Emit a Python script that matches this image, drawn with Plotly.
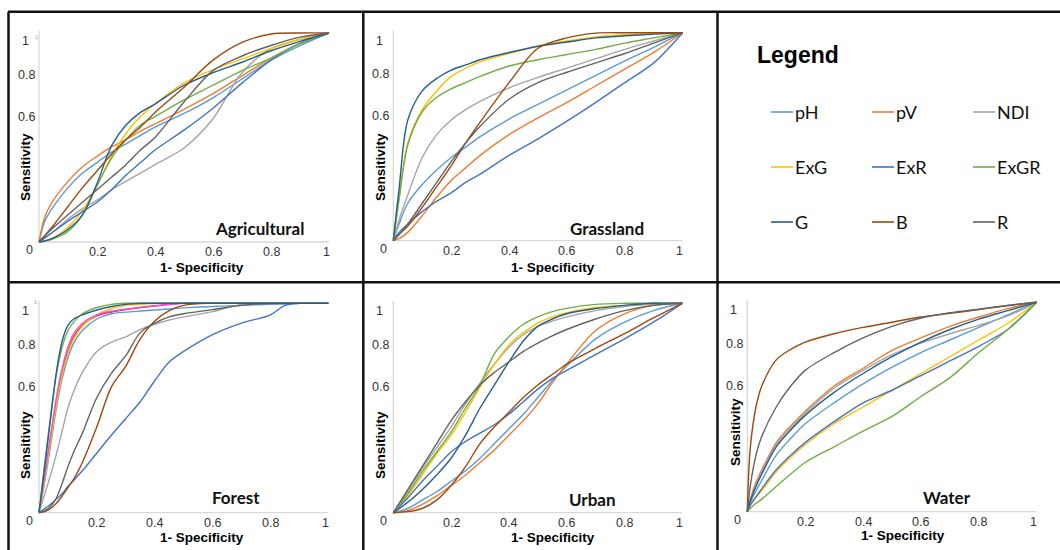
import plotly.graph_objects as go

# ---------------- data ----------------
SERIES = ["pH", "pV", "NDI", "ExG", "ExR", "ExGR", "G", "B", "R"]
COLORS = ["#5B9BD5", "#ED7D31", "#A5A5A5", "#FFC000", "#4472C4",
          "#70AD47", "#255E91", "#9E480E", "#636363"]
EXTRA_COLORS = {"red": "#E8262A", "pink": "#EE4FD6"}

Y_TICKS = [0, 0.6, 0.8, 1]
Y_TICK_TEXT = ["0", "0.6", "0.8", "1"]
X_TICKS = [0.2, 0.4, 0.6, 0.8, 1]
X_TICK_TEXT = ["0.2", "0.4", "0.6", "0.8", "1"]

# Agricultural
AGR_X = [0, 0.02, 0.05, 0.1, 0.15, 0.2, 0.25, 0.3, 0.35, 0.4, 0.5, 0.6, 0.7, 0.8, 0.9, 1]
AGR_PH = [0, 0.10, 0.17, 0.26, 0.33, 0.38, 0.43, 0.47, 0.51, 0.55, 0.615, 0.69, 0.78, 0.87, 0.94, 1]
AGR_PV = [0, 0.12, 0.20, 0.29, 0.36, 0.41, 0.455, 0.49, 0.53, 0.565, 0.635, 0.71, 0.795, 0.88, 0.95, 1]
AGR_NDI = [0, 0.02, 0.05, 0.11, 0.16, 0.20, 0.25, 0.29, 0.33, 0.37, 0.45, 0.59, 0.81, 0.925, 0.97, 1]
AGR_EXG = [0, 0.005, 0.02, 0.07, 0.15, 0.27, 0.41, 0.52, 0.60, 0.66, 0.76, 0.825, 0.875, 0.925, 0.97, 1]
AGR_EXR = [0, 0.02, 0.05, 0.10, 0.145, 0.19, 0.25, 0.32, 0.38, 0.44, 0.535, 0.64, 0.76, 0.87, 0.95, 1]
AGR_EXGR = [0, 0.005, 0.015, 0.05, 0.13, 0.27, 0.40, 0.49, 0.56, 0.60, 0.68, 0.75, 0.82, 0.88, 0.95, 1]
AGR_G = [0, 0.005, 0.02, 0.06, 0.13, 0.28, 0.46, 0.56, 0.62, 0.66, 0.75, 0.81, 0.86, 0.915, 0.96, 1]
AGR_B = [0, 0.03, 0.08, 0.17, 0.26, 0.34, 0.42, 0.49, 0.55, 0.62, 0.74, 0.87, 0.955, 0.995, 1, 1]
AGR_R = [0, 0.03, 0.07, 0.13, 0.19, 0.25, 0.31, 0.37, 0.44, 0.50, 0.67, 0.82, 0.89, 0.94, 0.98, 1]

# Grassland
GRA_X = [0, 0.02, 0.05, 0.1, 0.15, 0.2, 0.25, 0.3, 0.4, 0.5, 0.6, 0.7, 0.8, 0.9, 1]
GRA_PH = [0, 0.08, 0.18, 0.27, 0.34, 0.40, 0.45, 0.50, 0.585, 0.655, 0.725, 0.795, 0.865, 0.93, 1]
GRA_PV = [0, 0.01, 0.04, 0.12, 0.21, 0.29, 0.35, 0.41, 0.51, 0.59, 0.665, 0.745, 0.825, 0.905, 1]
GRA_NDI = [0, 0.10, 0.22, 0.40, 0.51, 0.58, 0.63, 0.67, 0.735, 0.785, 0.83, 0.875, 0.92, 0.96, 1]
GRA_EXG = [0, 0.20, 0.47, 0.63, 0.72, 0.79, 0.83, 0.86, 0.90, 0.935, 0.96, 0.98, 0.99, 0.995, 1]
GRA_EXR = [0, 0.04, 0.08, 0.14, 0.19, 0.23, 0.28, 0.32, 0.41, 0.49, 0.575, 0.665, 0.76, 0.855, 1]
GRA_EXGR = [0, 0.20, 0.46, 0.62, 0.69, 0.73, 0.76, 0.79, 0.84, 0.87, 0.895, 0.92, 0.95, 0.975, 1]
GRA_G = [0, 0.25, 0.58, 0.72, 0.78, 0.82, 0.845, 0.87, 0.905, 0.935, 0.955, 0.975, 0.985, 0.993, 1]
GRA_B = [0, 0.03, 0.07, 0.16, 0.26, 0.36, 0.47, 0.57, 0.76, 0.925, 0.975, 0.998, 1, 1, 1]
GRA_R = [0, 0.03, 0.08, 0.18, 0.28, 0.38, 0.47, 0.55, 0.68, 0.76, 0.81, 0.855, 0.90, 0.95, 1]

# Forest
FOR_X = [0, 0.02, 0.04, 0.06, 0.08, 0.1, 0.12, 0.15, 0.2, 0.25, 0.3, 0.35, 0.4, 0.45, 0.5, 0.6, 0.7, 0.8, 0.85, 0.9, 1]
FOR_PH = [0, 0.15, 0.32, 0.50, 0.64, 0.74, 0.81, 0.87, 0.925, 0.95, 0.958, 0.963, 0.968, 0.973, 0.978, 0.985, 0.99, 0.995, 0.997, 1, 1]
FOR_NDI = [0, 0.09, 0.18, 0.28, 0.39, 0.50, 0.58, 0.67, 0.77, 0.815, 0.84, 0.875, 0.90, 0.92, 0.935, 0.96, 0.995, 1, 1, 1, 1]
FOR_EXG = [0, 0.16, 0.34, 0.52, 0.66, 0.76, 0.83, 0.89, 0.945, 0.975, 0.99, 0.995, 1, 1, 1, 1, 1, 1, 1, 1, 1]
FOR_EXR = [0, 0.02, 0.04, 0.065, 0.09, 0.125, 0.155, 0.20, 0.285, 0.37, 0.45, 0.53, 0.63, 0.72, 0.77, 0.85, 0.905, 0.945, 0.99, 1, 1]
FOR_EXGR = [0, 0.24, 0.46, 0.66, 0.79, 0.87, 0.91, 0.95, 0.98, 0.995, 1, 1, 1, 1, 1, 1, 1, 1, 1, 1, 1]
FOR_G = [0, 0.22, 0.45, 0.67, 0.82, 0.895, 0.925, 0.945, 0.968, 0.985, 0.995, 1, 1, 1, 1, 1, 1, 1, 1, 1, 1]
FOR_B = [0, 0.005, 0.02, 0.045, 0.08, 0.12, 0.16, 0.24, 0.41, 0.60, 0.70, 0.83, 0.915, 0.965, 0.99, 1, 1, 1, 1, 1, 1]
FOR_R = [0, 0.01, 0.03, 0.07, 0.14, 0.22, 0.29, 0.38, 0.55, 0.665, 0.75, 0.86, 0.905, 0.935, 0.95, 0.97, 0.99, 1, 1, 1, 1]
FOR_RED = [0, 0.17, 0.35, 0.53, 0.67, 0.77, 0.84, 0.895, 0.94, 0.958, 0.97, 0.98, 0.988, 0.995, 1, 1, 1, 1, 1, 1, 1]
FOR_PINK = [0, 0.18, 0.37, 0.55, 0.69, 0.79, 0.855, 0.905, 0.945, 0.962, 0.972, 0.98, 0.987, 0.994, 1, 1, 1, 1, 1, 1, 1]

# Urban
URB_X = [0, 0.05, 0.1, 0.15, 0.2, 0.25, 0.3, 0.35, 0.4, 0.45, 0.5, 0.55, 0.6, 0.7, 0.8, 0.9, 1]
URB_PH = [0, 0.02, 0.06, 0.10, 0.15, 0.20, 0.26, 0.33, 0.40, 0.47, 0.55, 0.63, 0.70, 0.83, 0.91, 0.965, 1]
URB_PV = [0, 0.01, 0.04, 0.08, 0.13, 0.18, 0.24, 0.30, 0.37, 0.44, 0.52, 0.62, 0.71, 0.87, 0.95, 0.99, 1]
URB_NDI = [0, 0.10, 0.21, 0.31, 0.41, 0.52, 0.62, 0.71, 0.79, 0.85, 0.89, 0.915, 0.935, 0.965, 0.985, 0.995, 1]
URB_EXG = [0, 0.08, 0.18, 0.28, 0.37, 0.48, 0.60, 0.71, 0.80, 0.86, 0.905, 0.935, 0.955, 0.98, 0.99, 1, 1]
URB_EXR = [0, 0.07, 0.15, 0.22, 0.29, 0.34, 0.38, 0.42, 0.47, 0.53, 0.59, 0.64, 0.68, 0.755, 0.83, 0.91, 1]
URB_EXGR = [0, 0.09, 0.195, 0.29, 0.385, 0.50, 0.61, 0.76, 0.84, 0.90, 0.935, 0.96, 0.976, 0.995, 1, 1, 1]
URB_G = [0, 0.05, 0.11, 0.18, 0.26, 0.37, 0.50, 0.61, 0.72, 0.82, 0.89, 0.925, 0.95, 0.975, 0.99, 1, 1]
URB_B = [0, 0.005, 0.02, 0.06, 0.13, 0.22, 0.33, 0.41, 0.48, 0.55, 0.61, 0.66, 0.71, 0.785, 0.855, 0.93, 1]
URB_R = [0, 0.11, 0.22, 0.33, 0.44, 0.53, 0.61, 0.67, 0.72, 0.77, 0.81, 0.845, 0.875, 0.925, 0.965, 0.99, 1]

# Water
WAT_X = [0, 0.01, 0.03, 0.05, 0.1, 0.15, 0.2, 0.3, 0.4, 0.5, 0.6, 0.7, 0.8, 0.9, 1]
WAT_PH = [0, 0.04, 0.10, 0.15, 0.27, 0.35, 0.42, 0.52, 0.61, 0.69, 0.76, 0.82, 0.88, 0.94, 1]
WAT_PV = [0, 0.06, 0.14, 0.20, 0.33, 0.41, 0.48, 0.60, 0.685, 0.77, 0.83, 0.885, 0.93, 0.97, 1]
WAT_NDI = [0, 0.05, 0.13, 0.19, 0.32, 0.40, 0.47, 0.59, 0.675, 0.75, 0.805, 0.85, 0.89, 0.935, 1]
WAT_EXG = [0, 0.03, 0.07, 0.10, 0.19, 0.26, 0.32, 0.42, 0.50, 0.58, 0.66, 0.74, 0.82, 0.90, 1]
WAT_EXR = [0, 0.03, 0.07, 0.11, 0.20, 0.27, 0.33, 0.43, 0.52, 0.58, 0.65, 0.72, 0.79, 0.87, 1]
WAT_EXGR = [0, 0.015, 0.04, 0.06, 0.12, 0.18, 0.235, 0.31, 0.385, 0.455, 0.55, 0.64, 0.76, 0.87, 1]
WAT_G = [0, 0.05, 0.12, 0.18, 0.31, 0.39, 0.46, 0.57, 0.66, 0.74, 0.81, 0.87, 0.92, 0.96, 1]
WAT_B = [0, 0.30, 0.50, 0.60, 0.725, 0.775, 0.81, 0.85, 0.88, 0.905, 0.93, 0.947, 0.965, 0.985, 1]
WAT_R = [0, 0.12, 0.27, 0.36, 0.50, 0.60, 0.675, 0.76, 0.83, 0.885, 0.925, 0.95, 0.967, 0.985, 1]

PANEL_DATA = [
    ("Agricultural", AGR_X, [("pH", AGR_PH), ("pV", AGR_PV), ("NDI", AGR_NDI), ("ExG", AGR_EXG),
                             ("ExR", AGR_EXR), ("ExGR", AGR_EXGR), ("G", AGR_G), ("B", AGR_B), ("R", AGR_R)]),
    ("Grassland", GRA_X, [("pH", GRA_PH), ("pV", GRA_PV), ("NDI", GRA_NDI), ("ExG", GRA_EXG),
                          ("ExR", GRA_EXR), ("ExGR", GRA_EXGR), ("G", GRA_G), ("B", GRA_B), ("R", GRA_R)]),
    ("Forest", FOR_X, [("red", FOR_RED), ("pH", FOR_PH), ("NDI", FOR_NDI), ("ExR", FOR_EXR), ("B", FOR_B),
                       ("R", FOR_R), ("ExG", FOR_EXG), ("pink", FOR_PINK), ("ExGR", FOR_EXGR), ("G", FOR_G)]),
    ("Urban", URB_X, [("pH", URB_PH), ("pV", URB_PV), ("NDI", URB_NDI), ("ExG", URB_EXG),
                      ("ExR", URB_EXR), ("ExGR", URB_EXGR), ("G", URB_G), ("B", URB_B), ("R", URB_R)]),
    ("Water", WAT_X, [("pH", WAT_PH), ("pV", WAT_PV), ("NDI", WAT_NDI), ("ExG", WAT_EXG),
                      ("ExR", WAT_EXR), ("ExGR", WAT_EXGR), ("G", WAT_G), ("B", WAT_B), ("R", WAT_R)]),
]

# ---------------- layout geometry (pixels) ----------------
W, H = 1060, 550
# x0, x1, y0 (data 0), y1 (data 1), name centre, y-title centre, x-title centre
GEOM = [
    dict(x0=39, x1=329, y0=242, y1=33, name=(259.5, 228), yt=(25, 167), xt=(202, 267)),
    dict(x0=393.3, x1=682.7, y0=240.7, y1=32.7, name=(606.5, 228), yt=(380, 167), xt=(553, 267)),
    dict(x0=39, x1=328.3, y0=512.7, y1=303.3, name=(236, 497), yt=(25, 445), xt=(202, 537)),
    dict(x0=393.3, x1=682.3, y0=512.7, y1=303.3, name=(592.5, 499), yt=(380, 445), xt=(553, 537)),
    dict(x0=747.3, x1=1036.7, y0=511.7, y1=302.3, name=(947, 498), yt=(735, 432), xt=(903, 535)),
]


def px(x):
    return x / W


def py(y):
    return 1 - y / H


color_of = dict(zip(SERIES, COLORS))
color_of.update(EXTRA_COLORS)

TICK_FONT = dict(family="Liberation Sans, Arial, sans-serif", size=12.5, color="#333333")
TITLE_FONT = dict(family="Liberation Sans, Arial, sans-serif", size=13.5, color="#000000")
NAME_FONT = dict(family="Lato, Carlito, sans-serif", size=17, color="#111111")

fig = go.Figure()
layout = dict(width=W, height=H, margin=dict(l=0, r=0, t=0, b=0),
              paper_bgcolor="white", plot_bgcolor="white", showlegend=False)
shapes, annotations = [], []
PAD = 3

for i, ((pname, xs, series), g) in enumerate(zip(PANEL_DATA, GEOM), start=1):
    sfx = "" if i == 1 else str(i)
    xr, yr = "x" + sfx, "y" + sfx
    sx = g["x1"] - g["x0"]
    sy = g["y0"] - g["y1"]
    layout["xaxis" + sfx] = dict(domain=[px(g["x0"] - PAD), px(g["x1"] + PAD)],
                                 range=[-PAD / sx, 1 + PAD / sx], anchor=yr,
                                 visible=False, fixedrange=True)
    layout["yaxis" + sfx] = dict(domain=[py(g["y0"] + PAD), py(g["y1"] - PAD)],
                                 range=[-PAD / sy, 1 + PAD / sy], anchor=xr,
                                 visible=False, fixedrange=True)
    # light axis lines
    shapes.append(dict(type="line", xref=xr, yref=yr, x0=0, y0=0, x1=1, y1=0,
                       line=dict(color="#D9D9D9", width=1.3), layer="below"))
    shapes.append(dict(type="line", xref=xr, yref=yr, x0=0, y0=0, x1=0, y1=1.012,
                       line=dict(color="#D9D9D9", width=1.3), layer="below"))
    for name, ys in series:
        fig.add_trace(go.Scatter(x=xs, y=ys, mode="lines", name=name, xaxis=xr, yaxis=yr,
                                 line=dict(color=color_of[name], width=1.4,
                                           shape="spline", smoothing=0.9),
                                 hoverinfo="skip"))
    # tick labels
    for v, t in zip(Y_TICKS, Y_TICK_TEXT):
        xs_ = -13
        ys_ = 0
        if v == 1:
            xs_, ys_ = -14, -8
        elif v == 0:
            xs_, ys_ = -10, -8
        annotations.append(dict(xref=xr, yref=yr, x=0, y=v, text=t, showarrow=False,
                                xanchor="center", yanchor="middle", xshift=xs_, yshift=ys_,
                                font=TICK_FONT))
    for v, t in zip(X_TICKS, X_TICK_TEXT):
        annotations.append(dict(xref=xr, yref=yr, x=v, y=0, text=t, showarrow=False,
                                xanchor="center", yanchor="middle",
                                xshift=-3 if v == 1 else 0, yshift=-10, font=TICK_FONT))
    # titles
    annotations.append(dict(xref="paper", yref="paper", x=px(g["yt"][0]), y=py(g["yt"][1]),
                            text="<b>Sensitivity</b>", textangle=-90, showarrow=False,
                            xanchor="center", yanchor="middle", font=TITLE_FONT))
    annotations.append(dict(xref="paper", yref="paper", x=px(g["xt"][0]), y=py(g["xt"][1]),
                            text="<b>1- Specificity</b>", showarrow=False,
                            xanchor="center", yanchor="middle", font=TITLE_FONT))
    annotations.append(dict(xref="paper", yref="paper", x=px(g["name"][0]), y=py(g["name"][1]),
                            text="<b>%s</b>" % pname, showarrow=False,
                            xanchor="center", yanchor="middle", font=NAME_FONT))

# tiny stray marks near the top of two y axes
for (cx, cy) in [(33, 32), (32, 302)]:
    annotations.append(dict(xref="paper", yref="paper", x=px(cx), y=py(cy), text="1",
                            showarrow=False, font=dict(size=5, color="#999999",
                                                       family="Liberation Sans")))

# ---------------- legend panel ----------------
annotations.append(dict(xref="paper", yref="paper", x=px(755), y=py(55), text="<b>Legend</b>",
                        showarrow=False, xanchor="left", yanchor="middle",
                        font=dict(family="Liberation Sans, Arial, sans-serif", size=23, color="#000")))
LEG_COLS = [771, 872, 973]
LEG_ROWS = [112, 167, 222]
for k, (name, col) in enumerate(zip(SERIES, COLORS)):
    cx = LEG_COLS[k % 3]
    cy = LEG_ROWS[k // 3]
    shapes.append(dict(type="line", xref="paper", yref="paper", x0=px(cx), x1=px(cx + 22),
                       y0=py(cy), y1=py(cy), line=dict(color=col, width=1.6)))
    annotations.append(dict(xref="paper", yref="paper", x=px(cx + 22), y=py(cy), text=name,
                            showarrow=False, xanchor="left", yanchor="middle",
                            font=dict(family="Lato, Carlito, sans-serif", size=18, color="#111")))

# ---------------- panel borders ----------------
BORDER = dict(color="#111111", width=2.5)
for (x0, y0, x1, y1) in [(8, 11.7, 1060, 11.7), (8, 282.3, 1060, 282.3),
                         (8.5, 11.7, 8.5, 550), (363.3, 11.7, 363.3, 550),
                         (717.5, 11.7, 717.5, 550)]:
    shapes.append(dict(type="line", xref="paper", yref="paper", x0=px(x0), y0=py(y0),
                       x1=px(x1), y1=py(y1), line=BORDER, layer="above"))

layout["shapes"] = shapes
layout["annotations"] = annotations
fig.update_layout(**layout)
# remove the browser's default page margin so the 1060x550 figure fills the window exactly
fig.write_html("out.html", config={"displayModeBar": False},
               post_script="document.body.style.margin='0';document.body.style.overflow='hidden';")
